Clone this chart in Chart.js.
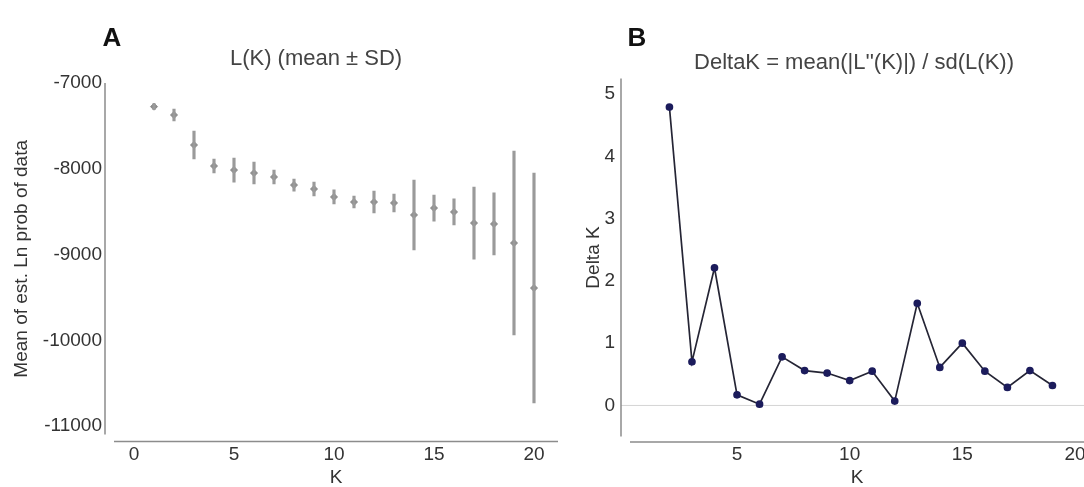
<!DOCTYPE html>
<html>
<head>
<meta charset="utf-8">
<title>Structure K plots</title>
<script src="https://cdn.jsdelivr.net/npm/chart.js@4.4.1/dist/chart.umd.min.js"></script>
<style>
    body { margin: 0; width: 1084px; height: 487px; overflow: hidden; background: #fff;
           font-family: "Liberation Sans", Arial, sans-serif; }
    canvas { position: absolute; top: 0; }
    .lbl { position: absolute; white-space: nowrap; transform: translate(-50%, -50%); color: #444; }
    .panel { font-size: 26px; font-weight: bold; color: #111; }
    .ttl { font-size: 22px; }
</style>
</head>
<body>
<canvas id="chartA" width="560" height="487" style="left:0"></canvas>
<canvas id="chartB" width="524" height="487" style="left:560px"></canvas>
<div class="lbl panel" style="left:112px;top:37px">A</div>
<div class="lbl panel" style="left:637px;top:37px">B</div>
<div class="lbl ttl" style="left:316px;top:58px">L(K) (mean ± SD)</div>
<div class="lbl ttl" style="left:854px;top:62px">DeltaK = mean(|L''(K)|) / sd(L(K))</div>

<script>
// 数据
const kValues = [1, 2, 3, 4, 5, 6, 7, 8, 9, 10, 11, 12, 13, 14, 15, 16, 17, 18, 19, 20];
const meanLnP = [-7276, -7373, -7723, -7968, -8015, -8050, -8096, -8190, -8236, -8329,
                 -8388, -8388, -8399, -8539, -8458, -8504, -8633, -8644, -8866, -9391];
const sdLnP = [35, 70, 163, 82, 140, 128, 82, 70, 82, 82,
               70, 128, 105, 408, 152, 152, 420, 362, 1073, 1341];

const deltaKValues = [2, 3, 4, 5, 6, 7, 8, 9, 10, 11, 12, 13, 14, 15, 16, 17, 18, 19];
const deltaK = [4.79, 0.70, 2.21, 0.17, 0.02, 0.78, 0.56, 0.52, 0.40, 0.55,
                0.07, 1.64, 0.61, 1.00, 0.55, 0.29, 0.56, 0.32];

const xTicksA = [0, 5, 10, 15, 20];
const yTicksA = [-7000, -8000, -9000, -10000, -11000];
const xTicksB = [5, 10, 15, 20];
const yTicksB = [0, 1, 2, 3, 4, 5];

const FONT = 'Liberation Sans';
const TEXT = '#333';

// 分离的坐标轴 (axes drawn a little away from the plot area)
const detachedAxes = {
    id: 'detachedAxes',
    beforeDatasetsDraw(chart, args, opts) {
        const { ctx, chartArea: a, scales } = chart;
        ctx.save();
        if (opts.zeroLine) {
            const y0 = scales.y.getPixelForValue(0);
            ctx.strokeStyle = '#d4d4d4';
            ctx.lineWidth = 1;
            ctx.beginPath();
            ctx.moveTo(a.left - opts.gapX, y0);
            ctx.lineTo(a.right, y0);
            ctx.stroke();
        }
        ctx.strokeStyle = '#8c8c8c';
        ctx.lineWidth = 1.5;
        ctx.beginPath();
        ctx.moveTo(a.left - opts.gapX, a.top);
        ctx.lineTo(a.left - opts.gapX, a.bottom);
        ctx.moveTo(a.left, a.bottom + opts.gapY);
        ctx.lineTo(a.right, a.bottom + opts.gapY);
        ctx.stroke();
        ctx.restore();
    }
};

// no extra room for edge labels, the plot area is fixed by layout padding
function noEdgePadding(s) {
    s.paddingLeft = 0; s.paddingRight = 0; s.paddingTop = 0; s.paddingBottom = 0;
}

function xAxis(min, max, tickList, pad, height) {
    return {
        type: 'linear', min: min, max: max, offset: false,
        grid: { display: false, drawTicks: false },
        border: { display: false },
        afterBuildTicks: s => { s.ticks = tickList.map(v => ({ value: v })); },
        afterFit: s => { s.height = height; noEdgePadding(s); },
        ticks: { padding: pad, autoSkip: false, maxRotation: 0, color: TEXT,
                 font: { family: FONT, size: 19 }, callback: v => String(v) },
        title: { display: true, text: 'K', color: TEXT, padding: 0,
                 font: { family: FONT, size: 19, lineHeight: 1 } }
    };
}

function yAxis(min, max, tickList, pad, width, title, titlePad) {
    return {
        type: 'linear', min: min, max: max,
        grid: { display: false, drawTicks: false },
        border: { display: false },
        afterBuildTicks: s => { s.ticks = tickList.map(v => ({ value: v })); },
        afterFit: s => { s.width = width; noEdgePadding(s); },
        ticks: { padding: pad, autoSkip: false, color: TEXT,
                 font: { family: FONT, size: 19 }, callback: v => String(v) },
        title: { display: true, text: title, color: TEXT, padding: { top: titlePad, bottom: 0 },
                 font: { family: FONT, size: 19 } }
    };
}

// A: L(K) mean ± SD
new Chart(document.getElementById('chartA'), {
    type: 'bar',
    data: {
        datasets: [{
            type: 'bar',
            data: kValues.map((k, i) => ({ x: k, y: [meanLnP[i] - sdLnP[i], meanLnP[i] + sdLnP[i]] })),
            backgroundColor: '#9a9a9a',
            barThickness: 2.5,
            grouped: false
        }, {
            type: 'scatter',
            data: kValues.map((k, i) => ({ x: k, y: meanLnP[i] })),
            pointStyle: 'rectRot',
            pointRadius: 3.5,
            backgroundColor: '#8a8a8a',
            borderColor: '#8a8a8a',
            borderWidth: 1
        }]
    },
    options: {
        responsive: false,
        animation: false,
        layout: { autoPadding: false, padding: { left: 0, top: 83, right: 2, bottom: 0 } },
        plugins: { legend: { display: false }, tooltip: { enabled: false },
                   detachedAxes: { gapX: 9, gapY: 7 } },
        scales: {
            x: xAxis(-1, 21.2, xTicksA, 9, 52.4),
            y: yAxis(-11100, -7000, yTicksA, 12, 114, 'Mean of est. Ln prob of data', 10)
        }
    },
    plugins: [detachedAxes]
});

// B: Delta K
new Chart(document.getElementById('chartB'), {
    type: 'line',
    data: {
        datasets: [{
            data: deltaKValues.map((k, i) => ({ x: k, y: deltaK[i] })),
            borderColor: '#252535',
            borderWidth: 1.7,
            tension: 0,
            pointRadius: 3,
            pointBackgroundColor: '#1c1c5c',
            pointBorderColor: '#1c1c5c'
        }]
    },
    options: {
        responsive: false,
        animation: false,
        layout: { autoPadding: false, padding: { left: 0, top: 78.4, right: 0, bottom: 0 } },
        plugins: { legend: { display: false }, tooltip: { enabled: false },
                   detachedAxes: { gapX: 9, gapY: 5.5, zeroLine: true } },
        scales: {
            x: xAxis(0.25, 20.4, xTicksB, 7, 50.4),
            y: yAxis(-0.5, 5.25, yTicksB, 15, 70, 'Delta K', 22)
        }
    },
    plugins: [detachedAxes]
});
</script>
</body>
</html>
